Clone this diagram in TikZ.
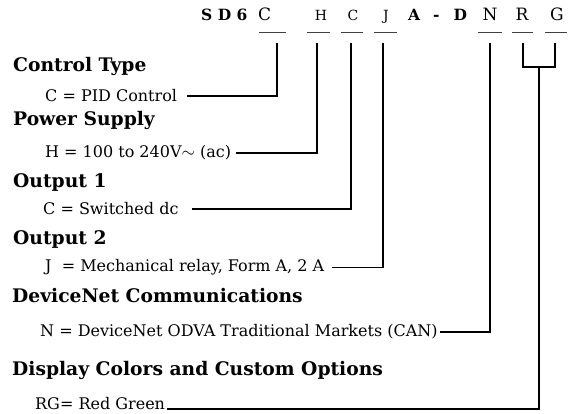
\documentclass[tikz,border=0pt]{standalone}
\usepackage{fontspec}
\setmainfont{DejaVu Serif}
\begin{document}
\begin{tikzpicture}[x=1pt,y=-1pt,
    head/.style={anchor=base west,inner sep=0pt,font=\fontsize{18.7}{20}\selectfont\bfseries},
    item/.style={anchor=base west,inner sep=0pt,font=\fontsize{16}{18}\selectfont},
    bold/.style={anchor=base west,inner sep=0pt,font=\fontsize{15.5}{17}\selectfont\bfseries},
    code/.style={anchor=base,inner sep=0pt,font=\fontsize{17}{19}\selectfont},
    small/.style={anchor=base,inner sep=0pt,font=\fontsize{14}{16}\selectfont},
    slot/.style={line width=0.8pt,black!75},
    wire/.style={line width=1.4pt}]
  \useasboundingbox (0,0) rectangle (568,414);
  % model number
  \node[bold] (sd) at (201,21) {S D 6};
  \node[code,anchor=base west] (cC) at (258,21) {C};
  \node[small] (cH) at (321,21) {H};
  \node[small] (cO) at (353,21) {C};
  \node[small] (cJ) at (386,21) {J};
  \node[bold] (ad) at (408,21) {A\hspace{13pt}-\hspace{14pt}D};
  \node[code] (cN) at (490,21) {N};
  \node[code] (cR) at (522,21) {R};
  \node[code] (cG) at (557,21) {G};
  \foreach \a/\b in {259/286,307/330,341/363,374/397,478/502,512/533,545/567}
    \draw[slot] (\a,32) -- (\b,32);
  \coordinate (tC) at (277,43);
  \coordinate (tH) at (317,43);
  \coordinate (tO) at (351,43);
  \coordinate (tJ) at (383,43);
  \coordinate (tN) at (490,43);
  \coordinate (tR) at (523,43);
  \coordinate (tG) at (555,43);
  \coordinate (jRG) at (539,67);
  % headings and codes
  \node[head] (hC) at (13,72) {Control Type};
  \node[item] (iC) at (45,102) {C = PID Control};
  \node[head] (hH) at (13,126) {Power Supply};
  \node[item] (iH) at (45,158) {H = 100 to 240V$\sim$ (ac)};
  \node[head] (hO) at (13,188) {Output 1};
  \node[item] (iO) at (43,215) {C = Switched dc};
  \node[head] (hJ) at (13,245) {Output 2};
  \node[item] (iJ) at (45,272) {J~ = Mechanical relay, Form A, 2 A};
  \node[head] (hN) at (12,302) {DeviceNet Communications};
  \node[item] (iN) at (40,337) {N = DeviceNet ODVA Traditional Markets (CAN)};
  \node[head] (hRG) at (12,375) {Display Colors and Custom Options};
  \node[item] (iRG) at (35,409) {RG= Red Green};
  % connectors
  \foreach \i/\t/\g in {iC/tC/10,iH/tH/5,iO/tO/13,iJ/tJ/8,iN/tN/2}
    \draw[wire] ([xshift=\g]\i.east) -| (\t);
  \draw[wire] (tR) |- (jRG) -| (tG);
  \draw[wire] ([xshift=2]iRG.base east) -| (jRG);
\end{tikzpicture}
\end{document}
